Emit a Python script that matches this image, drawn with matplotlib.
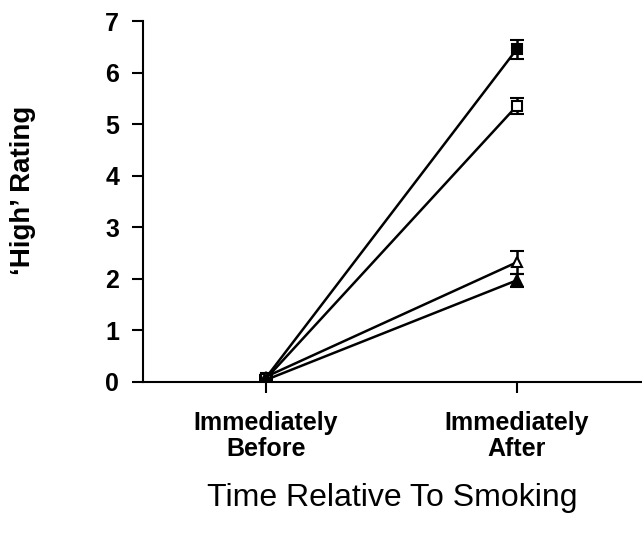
import numpy as np
import matplotlib.pyplot as plt

plt.rcParams['font.family'] = ['Liberation Sans', 'DejaVu Sans']

# time points
times = ['Immediately\nBefore', 'Immediately\nAfter']

# mean "High" ratings and SEM for the four conditions
filled_sq = [0.08, 6.45]
filled_sq_err = [0.03, 0.18]
open_sq = [0.06, 5.35]
open_sq_err = [0.03, 0.16]
open_tri = [0.10, 2.32]
open_tri_err = [0.03, 0.22]
filled_tri = [0.04, 1.97]
filled_tri_err = [0.03, 0.12]

series = [
    (filled_sq, filled_sq_err, 's', 'black'),
    (open_sq, open_sq_err, 's', 'white'),
    (open_tri, open_tri_err, '^', 'white'),
    (filled_tri, filled_tri_err, '^', 'black'),
]

fig = plt.figure(figsize=(6.42, 5.39), dpi=100)
ax = fig.add_axes((0.2227, 0.2913, 0.7773, 0.6697))

x = np.arange(len(times))
for vals, err, mk, fc in series:
    ax.errorbar(x, vals, yerr=err, color='black', lw=1.8, marker=mk,
                markersize=7.5, markerfacecolor=fc, markeredgecolor='black',
                markeredgewidth=1.5, capsize=5, capthick=1.8, elinewidth=1.8)

ax.set_xlim(-0.49, 1.5)
ax.set_ylim(0, 7)
ax.set_yticks(range(8))
ax.set_xticks(x)
ax.set_xticklabels(times, fontsize=18, fontweight='bold', linespacing=1.1)
for lbl in ax.get_yticklabels():
    lbl.set_fontsize(18)
    lbl.set_fontweight('bold')

ax.spines['top'].set_visible(False)
ax.spines['right'].set_visible(False)
ax.spines['left'].set_linewidth(1.5)
ax.spines['bottom'].set_linewidth(1.5)
ax.tick_params(direction='out', length=8, width=1.5)
ax.tick_params(axis='y', pad=9)
ax.tick_params(axis='x', pad=13)

ax.set_ylabel('\u2018High\u2019 Rating', fontsize=20, fontweight='bold')
ax.yaxis.set_label_coords(-0.215, 0.53)
ax.set_xlabel('Time Relative To Smoking', fontsize=23)
ax.xaxis.set_label_coords(0.5, -0.28)

fig.savefig('out.png', dpi=100)
